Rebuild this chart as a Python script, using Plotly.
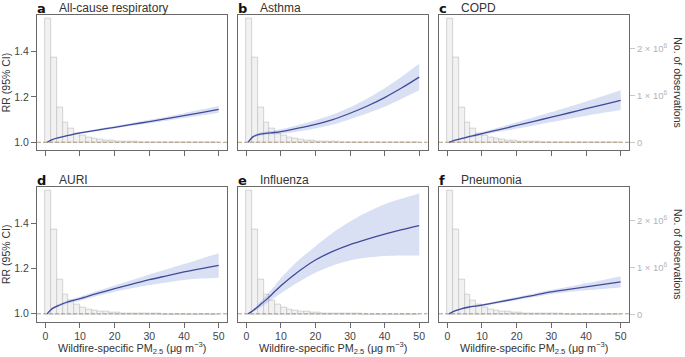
import plotly.graph_objects as go

# ---------------- data ----------------
letters = ["a", "b", "c", "d", "e", "f"]
titles = ["All-cause respiratory", "Asthma", "COPD", "AURI", "Influenza", "Pneumonia"]

pm25 = [0.5, 2, 4, 6, 8, 10, 15, 20, 25, 30, 35, 40, 45, 50]

allcause_rr = [1.000, 1.012, 1.021, 1.028, 1.035, 1.041, 1.054, 1.066, 1.079, 1.091, 1.104, 1.117, 1.131, 1.145]
allcause_lo = [1.000, 1.010, 1.018, 1.025, 1.031, 1.037, 1.049, 1.061, 1.073, 1.084, 1.095, 1.107, 1.118, 1.130]
allcause_hi = [1.000, 1.014, 1.024, 1.031, 1.039, 1.045, 1.059, 1.072, 1.085, 1.099, 1.113, 1.128, 1.144, 1.160]

asthma_rr = [1.000, 1.025, 1.036, 1.040, 1.043, 1.047, 1.062, 1.079, 1.100, 1.128, 1.160, 1.197, 1.240, 1.287]
asthma_lo = [1.000, 1.020, 1.030, 1.033, 1.035, 1.037, 1.048, 1.061, 1.078, 1.102, 1.128, 1.157, 1.192, 1.229]
asthma_hi = [1.000, 1.030, 1.043, 1.048, 1.052, 1.057, 1.076, 1.097, 1.122, 1.154, 1.193, 1.238, 1.290, 1.346]

copd_rr = [1.000, 1.008, 1.016, 1.024, 1.031, 1.038, 1.056, 1.074, 1.092, 1.111, 1.129, 1.148, 1.166, 1.185]
copd_lo = [1.000, 1.006, 1.012, 1.019, 1.025, 1.031, 1.046, 1.060, 1.074, 1.089, 1.103, 1.117, 1.130, 1.142]
copd_hi = [1.000, 1.010, 1.020, 1.029, 1.037, 1.045, 1.066, 1.088, 1.110, 1.133, 1.156, 1.180, 1.204, 1.229]

auri_rr = [1.000, 1.023, 1.038, 1.050, 1.059, 1.067, 1.090, 1.111, 1.131, 1.151, 1.168, 1.185, 1.200, 1.214]
auri_lo = [1.000, 1.019, 1.032, 1.043, 1.051, 1.058, 1.079, 1.098, 1.113, 1.127, 1.139, 1.150, 1.156, 1.160]
auri_hi = [1.000, 1.027, 1.044, 1.057, 1.067, 1.076, 1.101, 1.125, 1.149, 1.174, 1.197, 1.220, 1.244, 1.268]

flu_rr = [1.000, 1.015, 1.040, 1.066, 1.095, 1.124, 1.186, 1.238, 1.276, 1.306, 1.330, 1.352, 1.372, 1.390]
flu_lo = [1.000, 1.010, 1.028, 1.048, 1.070, 1.091, 1.140, 1.182, 1.214, 1.236, 1.249, 1.256, 1.258, 1.258]
flu_hi = [1.000, 1.020, 1.052, 1.085, 1.120, 1.158, 1.236, 1.298, 1.358, 1.408, 1.450, 1.485, 1.510, 1.532]

pneu_rr = [1.000, 1.012, 1.022, 1.029, 1.034, 1.038, 1.053, 1.067, 1.082, 1.097, 1.108, 1.119, 1.130, 1.141]
pneu_lo = [1.000, 1.010, 1.019, 1.025, 1.030, 1.033, 1.047, 1.060, 1.074, 1.088, 1.097, 1.104, 1.110, 1.116]
pneu_hi = [1.000, 1.014, 1.025, 1.033, 1.038, 1.043, 1.059, 1.074, 1.090, 1.106, 1.120, 1.135, 1.150, 1.166]

hist_start = 0.0
hist_bin_width = 50 / 30
hist_counts = [2640000, 1810000, 745000, 420000, 300000, 205000, 150000, 107000, 80000, 64000,
               50000, 40000, 32000, 25000, 20000, 16000, 13000, 10000, 8000, 6000,
               5000, 4000, 3000, 3000, 2000, 2000, 1000, 1000, 1000, 1000]

x_ticks = [0, 10, 20, 30, 40, 50]
rr_ticks = [1.0, 1.2, 1.4]
obs_ticks = [0, 1000000, 2000000]
obs_ticktext = ["0", "1 × 10<sup>6</sup>", "2 × 10<sup>6</sup>"]

series = [
    (allcause_rr, allcause_lo, allcause_hi),
    (asthma_rr, asthma_lo, asthma_hi),
    (copd_rr, copd_lo, copd_hi),
    (auri_rr, auri_lo, auri_hi),
    (flu_rr, flu_lo, flu_hi),
    (pneu_rr, pneu_lo, pneu_hi),
]

# ---------------- layout geometry (pixels) ----------------
W, H = 685, 357
cols_px = [(37, 227), (238, 427.5), (439, 629)]
rows_px = [(14.5, 150), (186.5, 321.5)]
x_range = [-2.4, 52.4]
rr_range = [0.966, 1.563]
obs_range = [-155000, 2728000]

FONT = "Liberation Sans, Arial, sans-serif"
LINE_COL = "#414a9a"
BAND_COL = "rgba(115,140,215,0.27)"
FRAME_COL = "#6a6a6a"
TEXT_COL = "#3a3a3a"


def px_x(v):
    return v / W


def px_y(v):
    return 1 - v / H


fig = go.Figure()
layout = dict(
    width=W, height=H,
    margin=dict(l=0, r=0, t=0, b=0),
    paper_bgcolor="white", plot_bgcolor="white",
    showlegend=False, bargap=0,
    font=dict(family=FONT, size=10, color=TEXT_COL),
)
annotations = []
shapes = []

hist_x = [hist_start + (i + 0.5) * hist_bin_width for i in range(len(hist_counts))]

for i in range(6):
    r, c = divmod(i, 3)
    n = i + 1
    xa = "x" if n == 1 else f"x{n}"
    yh_i = 2 * i + 1
    yr_i = 2 * i + 2
    yh = "y" if yh_i == 1 else f"y{yh_i}"
    yr = f"y{yr_i}"
    x0p, x1p = cols_px[c]
    y0p, y1p = rows_px[r]
    xdom = [px_x(x0p), px_x(x1p)]
    ydom = [px_y(y1p), px_y(y0p)]

    # histogram (base axis, right side)
    fig.add_trace(go.Bar(
        x=hist_x, y=hist_counts, width=hist_bin_width,
        marker=dict(color="#f1f1f1", line=dict(color="#c2c2c2", width=0.7)),
        xaxis=xa, yaxis=yh, hoverinfo="skip"))

    rr, lo, hi = series[i]
    fig.add_trace(go.Scatter(
        x=pm25, y=lo, mode="lines", line=dict(width=0, shape="spline", smoothing=0.8),
        xaxis=xa, yaxis=yr, hoverinfo="skip"))
    fig.add_trace(go.Scatter(
        x=pm25, y=hi, mode="lines", line=dict(width=0, shape="spline", smoothing=0.8),
        fill="tonexty", fillcolor=BAND_COL,
        xaxis=xa, yaxis=yr, hoverinfo="skip"))
    fig.add_trace(go.Scatter(
        x=pm25, y=rr, mode="lines",
        line=dict(color=LINE_COL, width=1.3, shape="spline", smoothing=0.8),
        xaxis=xa, yaxis=yr))

    xkey = "xaxis" if n == 1 else f"xaxis{n}"
    layout[xkey] = dict(
        domain=xdom, anchor=yh, range=x_range,
        showline=True, mirror=True, linecolor=FRAME_COL, linewidth=1,
        ticks="outside", ticklen=5, tickcolor=FRAME_COL, tickwidth=1,
        tickvals=x_ticks, showticklabels=(r == 1),
        tickfont=dict(size=10.5, color="#444444"),
        showgrid=False, zeroline=False, fixedrange=True,
    )
    hkey = "yaxis" if yh_i == 1 else f"yaxis{yh_i}"
    layout[hkey] = dict(
        domain=ydom, anchor=xa, range=obs_range, side="right",
        showline=True, mirror=True, linecolor=FRAME_COL, linewidth=1,
        ticks="outside" if c == 2 else "", ticklen=5, tickcolor="#c8c8c8",
        tickvals=obs_ticks, ticktext=obs_ticktext, showticklabels=(c == 2),
        tickfont=dict(size=9.5, color="#b3b3b3"),
        showgrid=False, zeroline=False, fixedrange=True,
    )
    layout[f"yaxis{yr_i}"] = dict(
        overlaying=yh, anchor=xa, range=rr_range, side="left",
        showline=False,
        ticks="outside" if c == 0 else "", ticklen=5, tickcolor=FRAME_COL,
        tickvals=rr_ticks, tickformat=".1f", showticklabels=(c == 0),
        tickfont=dict(size=10.5, color="#444444"),
        showgrid=False, zeroline=False, fixedrange=True,
    )

    # reference line RR = 1
    shapes.append(dict(type="line", xref=f"{xa} domain", yref=yr, x0=0, x1=1, y0=1.0, y1=1.0,
                       line=dict(color="#ad9c84", width=1, dash="4px,2px"), layer="above"))

    # panel titles
    ty = px_y(y0p - 6.5)
    annotations.append(dict(text=f"<b>{letters[i]}</b>", x=px_x(x0p - 2.5), y=ty, xref="paper", yref="paper",
                            xanchor="left", yanchor="middle", showarrow=False,
                            font=dict(size=13, color="#111111", family="DejaVu Sans, sans-serif")))
    annotations.append(dict(text=titles[i], x=px_x(x0p + 20), y=ty, xref="paper", yref="paper",
                            xanchor="left", yanchor="middle", showarrow=False,
                            font=dict(size=12, color="#333333")))

    if r == 1:
        annotations.append(dict(text="Wildfire-specific PM<sub>2.5</sub> (μg m<sup>−3</sup>)",
                                x=px_x((x0p + x1p) / 2), y=px_y(348), xref="paper", yref="paper",
                                xanchor="center", yanchor="middle", showarrow=False,
                                font=dict(size=10.8, color="#333333")))
    if c == 0:
        annotations.append(dict(text="RR (95% CI)", x=px_x(6), y=px_y((y0p + y1p) / 2),
                                xref="paper", yref="paper", textangle=-90,
                                xanchor="center", yanchor="middle", showarrow=False,
                                font=dict(size=10.5, color="#333333")))
    if c == 2:
        annotations.append(dict(text="No. of observations", x=px_x(678), y=px_y((y0p + y1p) / 2),
                                xref="paper", yref="paper", textangle=90,
                                xanchor="center", yanchor="middle", showarrow=False,
                                font=dict(size=10.5, color="#333333")))

layout["annotations"] = annotations
layout["shapes"] = shapes
fig.update_layout(**layout)
fig.write_html(
    "out.html",
    config={"displayModeBar": False},
    post_script="document.body.style.margin='0';document.body.style.overflow='hidden';",
)
